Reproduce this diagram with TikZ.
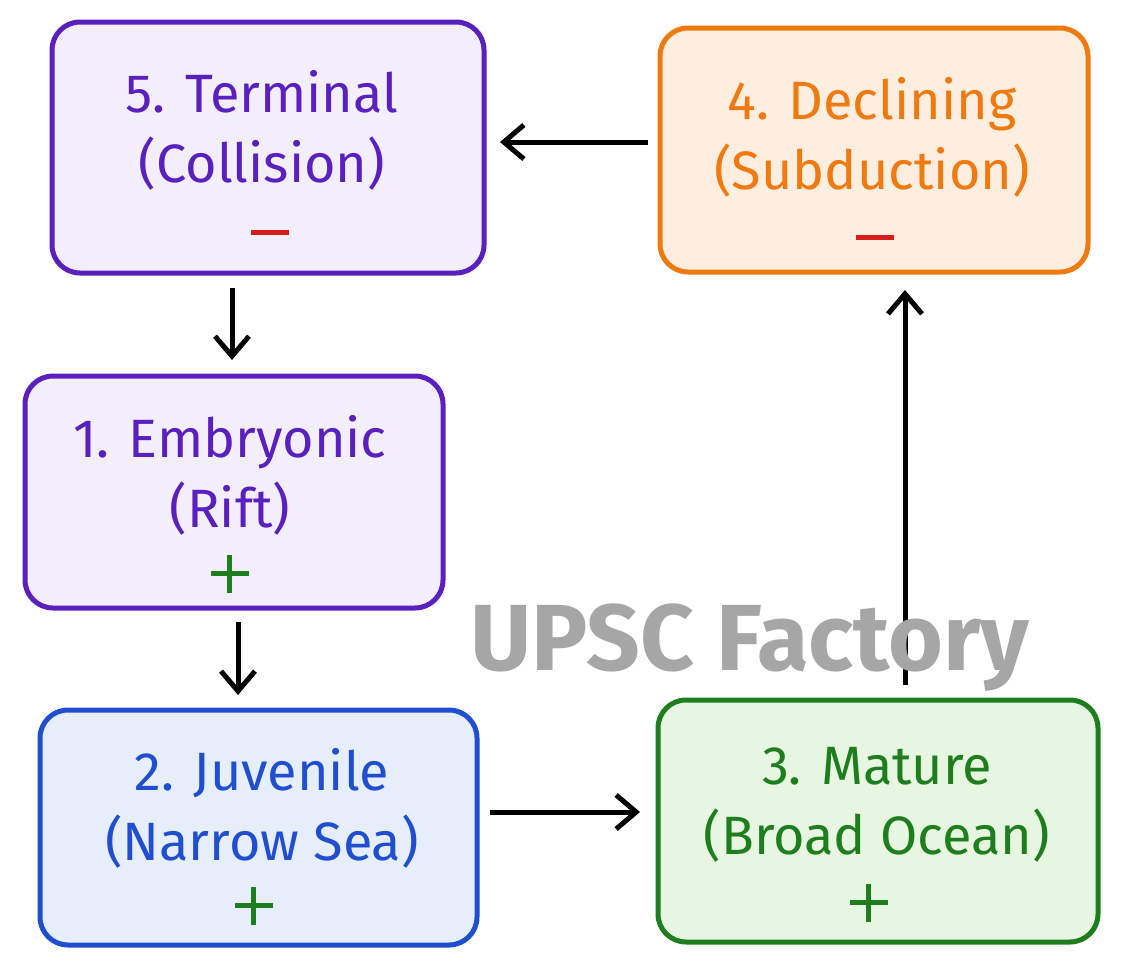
\documentclass[tikz,border=0pt]{standalone}
\usepackage{fontspec}
\setmainfont{Fira Sans}
\usetikzlibrary{arrows.meta}
\definecolor{pur}{HTML}{5A1FBF}
\definecolor{purf}{HTML}{F2EEFC}
\definecolor{org}{HTML}{F07A10}
\definecolor{orgf}{HTML}{FDEEDF}
\definecolor{blu}{HTML}{1F4FD0}
\definecolor{bluf}{HTML}{E7EEFB}
\definecolor{grn}{HTML}{1E7E1E}
\definecolor{grnf}{HTML}{E6F6E1}
\definecolor{mred}{HTML}{D81B1B}
\tikzset{
 box/.style={rounded corners=28pt,line width=5pt},
 lbl/.style={align=center,font=\fontsize{54}{70}\selectfont},
 sgn/.style={inner sep=0pt},
 arr/.style={-{Straight Barb[length=20pt,width=34pt,line width=5pt]},line width=5pt,black}
}
\newcommand{\myplus}{\rule[-17pt]{5pt}{38pt}\kern-21.5pt\rule{38pt}{5pt}}
\begin{document}
\begin{tikzpicture}[x=1pt,y=-1pt]
\useasboundingbox (0,0) rectangle (1122,969);
\draw[box,draw=pur,fill=purf] (52,22) rectangle (484,273);
\draw[box,draw=org,fill=orgf] (660,28) rectangle (1088,272);
\draw[box,draw=pur,fill=purf] (25,376) rectangle (443,608);
\draw[box,draw=blu,fill=bluf] (40,710) rectangle (477,945);
\draw[box,draw=grn,fill=grnf] (658,700) rectangle (1098,942);
\node[lbl,text=pur] (t5) at (262,130) {5. Terminal\\(Collision)};
\node[sgn,text=mred] (s5) at (270,232) {\rule{38pt}{5pt}};
\node[lbl,text=org] (t4) at (872,137) {4. Declining\\(Subduction)};
\node[sgn,text=mred] (s4) at (875,237) {\rule{38pt}{5pt}};
\node[lbl,text=pur] (t1) at (230,475) {1. Embryonic\\(Rift)};
\node[sgn,text=grn] (s1) at (238,574) {\myplus};
\node[lbl,text=blu] (t2) at (262,808) {2. Juvenile\\(Narrow Sea)};
\node[sgn,text=grn] (s2) at (262,906) {\myplus};
\node[lbl,text=grn] (t3) at (877,805) {3. Mature\\(Broad Ocean)};
\node[sgn,text=grn] (s3) at (877,903) {\myplus};
\coordinate (a4) at (648,142); \coordinate (b5) at (500,142);
\coordinate (a5) at (232,288); \coordinate (b1) at (232,360);
\coordinate (a1) at (238,622); \coordinate (b2) at (238,695);
\coordinate (a2) at (490,812); \coordinate (b3) at (640,812);
\coordinate (a3) at (905,685); \coordinate (b4) at (905,290);
\draw[arr] (a4) -- (b5);
\draw[arr] (a5) -- (b1);
\draw[arr] (a1) -- (b2);
\draw[arr] (a2) -- (b3);
\draw[arr] (a3) -- (b4);
\node[text=black!35,font=\fontsize{94}{96}\selectfont\bfseries] (wm) at (750,648) {UPSC Factory};
\end{tikzpicture}
\end{document}
